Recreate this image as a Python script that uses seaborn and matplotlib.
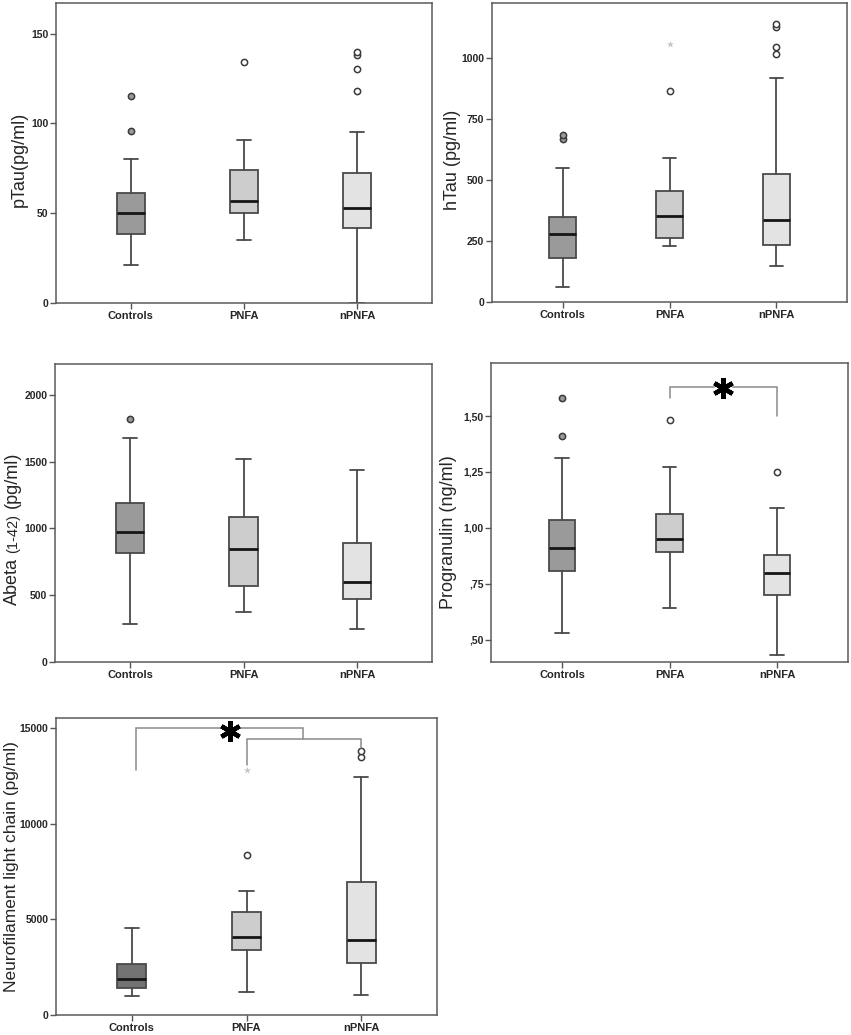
import matplotlib
matplotlib.use('Agg')
import matplotlib.pyplot as plt
import seaborn as sns

groups = ['Controls', 'PNFA', 'nPNFA']

# five-number summaries, per group (Controls, PNFA, nPNFA)
ptau_low = [21, 35, 0]
ptau_q1 = [38.5, 50, 42]
ptau_med = [50, 57, 53]
ptau_q3 = [61, 74, 72.5]
ptau_high = [80, 91, 95]
ptau_out = [[96, 115], [134], [118, 130, 138, 139.5]]
ptau_ext = [[], [], []]

htau_low = [62, 231, 147]
htau_q1 = [182, 261, 235]
htau_med = [280, 352, 336]
htau_q3 = [346, 455, 525]
htau_high = [549, 588, 919]
htau_out = [[666, 682], [862], [1015, 1044, 1124, 1137]]
htau_ext = [[], [1056], []]

abeta_low = [283, 372, 250]
abeta_q1 = [817, 567, 472]
abeta_med = [975, 845, 600]
abeta_q3 = [1190, 1085, 887]
abeta_high = [1677, 1522, 1435]
abeta_out = [[1819], [], []]
abeta_ext = [[], [], []]

pgrn_low = [0.529, 0.641, 0.431]
pgrn_q1 = [0.806, 0.891, 0.701]
pgrn_med = [0.909, 0.951, 0.799]
pgrn_q3 = [1.034, 1.061, 0.879]
pgrn_high = [1.311, 1.271, 1.09]
pgrn_out = [[1.409, 1.58], [1.48], [1.25]]
pgrn_ext = [[], [], []]

nfl_low = [996, 1205, 1032]
nfl_q1 = [1400, 3391, 2725]
nfl_med = [1903, 4072, 3931]
nfl_q3 = [2673, 5383, 6955]
nfl_high = [4575, 6515, 12458]
nfl_out = [[], [8349], [13486, 13800]]
nfl_ext = [[], [12804], []]

pgrn_ticks = [0.5, 0.75, 1.0, 1.25, 1.5]
pgrn_ticklabels = [',50', ',75', '1,00', '1,25', '1,50']

box_colors = ['#9a9a9a', '#cdcdcd', '#e3e3e3']
edge = '#4a4a4a'

sns.set_style('white')
plt.rcParams['font.family'] = ['Liberation Sans', 'DejaVu Sans']

fig = plt.figure(figsize=(8.51, 10.35), dpi=100)
W, H = 851, 1035


def make_ax(left, top, right, bottom):
    return fig.add_axes([left / W, 1 - bottom / H, (right - left) / W, (bottom - top) / H])


def draw_panel(ax, low, q1, med, q3, high, out, ext, ylim, ctrl_color=None):
    stats = []
    for i in range(len(groups)):
        stats.append(dict(whislo=low[i], q1=q1[i], med=med[i], q3=q3[i],
                          whishi=high[i], fliers=out[i], label=groups[i]))
    res = ax.bxp(stats, positions=range(len(groups)), widths=0.25,
                 patch_artist=True, showfliers=True,
                 boxprops=dict(edgecolor=edge, linewidth=1.3),
                 medianprops=dict(color='#151515', linewidth=2),
                 whiskerprops=dict(color=edge, linewidth=1.3),
                 capprops=dict(color=edge, linewidth=1.3),
                 flierprops=dict(marker='o', markersize=4.5, markeredgecolor='#3a3a3a',
                                 markeredgewidth=1.1))
    colors = list(box_colors)
    if ctrl_color:
        colors[0] = ctrl_color
    for i, b in enumerate(res['boxes']):
        b.set_facecolor(colors[i])
        res['fliers'][i].set_markerfacecolor(colors[i] if i == 0 else 'white')
    for i, vals in enumerate(ext):
        if vals:
            ax.scatter([i] * len(vals), vals, marker='*', s=28, color='#c4c4c4',
                       linewidths=0, zorder=3)
    ax.set_xlim(-0.66, 2.66)
    ax.set_ylim(*ylim)
    ax.set_xticks(range(len(groups)))
    ax.set_xticklabels(groups, fontsize=8, fontweight='bold')
    ax.tick_params(axis='both', direction='out', length=4, width=1, color='#555555',
                   labelsize=8, pad=2, left=True, bottom=True, top=False, right=False)
    ax.tick_params(axis='y', labelsize=7.5, pad=1.5)
    for s in ax.spines.values():
        s.set_color('#5a5a5a')
        s.set_linewidth(1.1)


def bracket(ax, x1, x2, y_left, y_top, y_right, color='#8a8a8a'):
    ax.plot([x1, x1, x2, x2], [y_left, y_top, y_top, y_right], color=color, lw=1.1,
            solid_joinstyle='miter', zorder=2)


def big_star(ax, x, y):
    ax.plot([x], [y], marker=(6, 2, 0), markersize=15, markeredgewidth=3.2,
            color='black', zorder=4, clip_on=False)
    ax.plot([x], [y], marker='s', markersize=11, color='white', zorder=3, lw=0)


# pTau
ax1 = make_ax(56, 3, 432, 303)
draw_panel(ax1, ptau_low, ptau_q1, ptau_med, ptau_q3, ptau_high, ptau_out, ptau_ext, (0, 167))
ax1.set_yticks([0, 50, 100, 150])
ax1.set_yticklabels(['0', '50', '100', '150'], fontweight='bold')
ax1.set_ylabel('pTau(pg/ml)', fontsize=13)
ax1.yaxis.set_label_coords(-0.075, 0.48)

# hTau
ax2 = make_ax(492, 3, 847, 302)
draw_panel(ax2, htau_low, htau_q1, htau_med, htau_q3, htau_high, htau_out, htau_ext, (0, 1224))
ax2.set_yticks([0, 250, 500, 750, 1000])
ax2.set_yticklabels(['0', '250', '500', '750', '1000'], fontweight='bold')
ax2.set_ylabel('hTau (pg/ml)', fontsize=13)
ax2.yaxis.set_label_coords(-0.088, 0.476)

# Abeta
ax3 = make_ax(55, 364, 432, 662)
draw_panel(ax3, abeta_low, abeta_q1, abeta_med, abeta_q3, abeta_high, abeta_out, abeta_ext, (0, 2230))
ax3.set_yticks([0, 500, 1000, 1500, 2000])
ax3.set_yticklabels(['0', '500', '1000', '1500', '2000'], fontweight='bold')
lab_x = -0.1
t1 = ax3.text(lab_x, 0.19, 'Abeta', transform=ax3.transAxes, rotation=90,
              rotation_mode='anchor', ha='left', va='baseline', fontsize=13)
t2 = ax3.annotate('(1-42)', xy=(lab_x, 1), xycoords=(ax3.transAxes, t1),
                  xytext=(0, 4), textcoords='offset points', rotation=90,
                  rotation_mode='anchor', ha='left', va='baseline', fontsize=10.5)
ax3.annotate('(pg/ml)', xy=(lab_x, 1), xycoords=(ax3.transAxes, t2),
             xytext=(0, 4), textcoords='offset points', rotation=90,
             rotation_mode='anchor', ha='left', va='baseline', fontsize=13)

# Progranulin
ax4 = make_ax(491, 363, 848, 662)
draw_panel(ax4, pgrn_low, pgrn_q1, pgrn_med, pgrn_q3, pgrn_high, pgrn_out, pgrn_ext, (0.40, 1.737))
ax4.set_yticks(pgrn_ticks)
ax4.set_yticklabels(pgrn_ticklabels, fontweight='bold')
ax4.set_ylabel('Progranulin (ng/ml)', fontsize=13)
ax4.yaxis.set_label_coords(-0.094, 0.435)
bracket(ax4, 1, 2, 1.58, 1.63, 1.50)
big_star(ax4, 1.5, 1.625)

# Neurofilament light chain
ax5 = make_ax(56, 718, 437, 1015)
draw_panel(ax5, nfl_low, nfl_q1, nfl_med, nfl_q3, nfl_high, nfl_out, nfl_ext, (0, 15545),
           ctrl_color='#727272')
ax5.set_yticks([0, 5000, 10000, 15000])
ax5.set_yticklabels(['0', '5000', '10000', '15000'], fontweight='bold')
ax5.set_ylabel('Neurofilament light chain (pg/ml)', fontsize=12.5)
ax5.yaxis.set_label_coords(-0.097, 0.5)
bracket(ax5, 0.04, 1.49, 12841, 15000, 14465)
bracket(ax5, 1.0, 2.0, 13103, 14465, 14000)
big_star(ax5, 0.86, 14848)

fig.savefig('out.png', dpi=100)
